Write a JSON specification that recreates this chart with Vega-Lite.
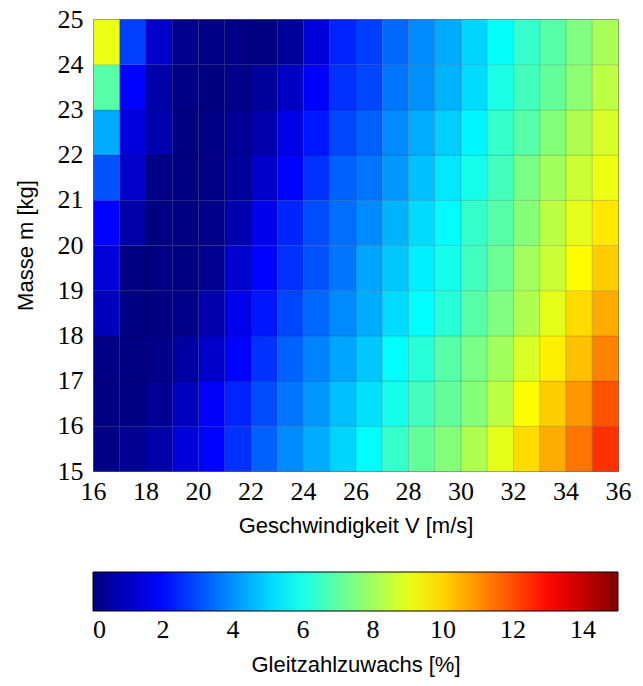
{
  "$schema": "https://vega.github.io/schema/vega-lite/v6.json",
  "width": 525,
  "height": 452,
  "autosize": {"type": "none"},
  "padding": {"left": 93, "top": 19, "right": 25, "bottom": 215},
  "background": "white",
  "config": {
    "view": {"stroke": "#888", "strokeWidth": 1},
    "axis": {"grid": false, "ticks": false, "domain": false, "labelColor": "black", "titleColor": "black"}
  },
  "datasets": {
    "cells": [
      {"m":15,"V":16,"g":0.1},{"m":15,"V":17,"g":0.3},{"m":15,"V":18,"g":0.6},{"m":15,"V":19,"g":1.3},{"m":15,"V":20,"g":1.9},{"m":15,"V":21,"g":2.6},{"m":15,"V":22,"g":3.3},{"m":15,"V":23,"g":3.9},{"m":15,"V":24,"g":4.4},{"m":15,"V":25,"g":5.0},{"m":15,"V":26,"g":5.6},{"m":15,"V":27,"g":6.4},{"m":15,"V":28,"g":7.1},{"m":15,"V":29,"g":7.6},{"m":15,"V":30,"g":8.2},{"m":15,"V":31,"g":9.0},{"m":15,"V":32,"g":9.9},{"m":15,"V":33,"g":10.6},{"m":15,"V":34,"g":11.4},{"m":15,"V":35,"g":12.4},
      {"m":16,"V":16,"g":0.05},{"m":16,"V":17,"g":0.05},{"m":16,"V":18,"g":0.3},{"m":16,"V":19,"g":0.9},{"m":16,"V":20,"g":1.85},{"m":16,"V":21,"g":2.4},{"m":16,"V":22,"g":3.0},{"m":16,"V":23,"g":3.6},{"m":16,"V":24,"g":4.1},{"m":16,"V":25,"g":4.7},{"m":16,"V":26,"g":5.2},{"m":16,"V":27,"g":5.9},{"m":16,"V":28,"g":6.6},{"m":16,"V":29,"g":7.1},{"m":16,"V":30,"g":7.6},{"m":16,"V":31,"g":8.4},{"m":16,"V":32,"g":9.4},{"m":16,"V":33,"g":10.1},{"m":16,"V":34,"g":10.9},{"m":16,"V":35,"g":11.9},
      {"m":17,"V":16,"g":0.1},{"m":17,"V":17,"g":0.05},{"m":17,"V":18,"g":0.15},{"m":17,"V":19,"g":0.5},{"m":17,"V":20,"g":1.1},{"m":17,"V":21,"g":1.9},{"m":17,"V":22,"g":2.6},{"m":17,"V":23,"g":3.3},{"m":17,"V":24,"g":3.8},{"m":17,"V":25,"g":4.3},{"m":17,"V":26,"g":4.8},{"m":17,"V":27,"g":5.6},{"m":17,"V":28,"g":6.2},{"m":17,"V":29,"g":6.9},{"m":17,"V":30,"g":7.4},{"m":17,"V":31,"g":8.0},{"m":17,"V":32,"g":8.8},{"m":17,"V":33,"g":9.6},{"m":17,"V":34,"g":10.3},{"m":17,"V":35,"g":11.2},
      {"m":18,"V":16,"g":0.9},{"m":18,"V":17,"g":0.05},{"m":18,"V":18,"g":0.05},{"m":18,"V":19,"g":0.15},{"m":18,"V":20,"g":0.7},{"m":18,"V":21,"g":1.6},{"m":18,"V":22,"g":2.2},{"m":18,"V":23,"g":2.9},{"m":18,"V":24,"g":3.4},{"m":18,"V":25,"g":3.9},{"m":18,"V":26,"g":4.4},{"m":18,"V":27,"g":5.1},{"m":18,"V":28,"g":5.6},{"m":18,"V":29,"g":6.2},{"m":18,"V":30,"g":6.9},{"m":18,"V":31,"g":7.5},{"m":18,"V":32,"g":8.2},{"m":18,"V":33,"g":9.0},{"m":18,"V":34,"g":9.9},{"m":18,"V":35,"g":10.6},
      {"m":19,"V":16,"g":1.3},{"m":19,"V":17,"g":0.05},{"m":19,"V":18,"g":0.05},{"m":19,"V":19,"g":0.05},{"m":19,"V":20,"g":0.3},{"m":19,"V":21,"g":1.2},{"m":19,"V":22,"g":1.9},{"m":19,"V":23,"g":2.6},{"m":19,"V":24,"g":3.1},{"m":19,"V":25,"g":3.6},{"m":19,"V":26,"g":4.3},{"m":19,"V":27,"g":4.8},{"m":19,"V":28,"g":5.4},{"m":19,"V":29,"g":5.9},{"m":19,"V":30,"g":6.6},{"m":19,"V":31,"g":7.2},{"m":19,"V":32,"g":8.0},{"m":19,"V":33,"g":8.6},{"m":19,"V":34,"g":9.4},{"m":19,"V":35,"g":10.1},
      {"m":20,"V":16,"g":1.9},{"m":20,"V":17,"g":0.6},{"m":20,"V":18,"g":0.05},{"m":20,"V":19,"g":0.05},{"m":20,"V":20,"g":0.15},{"m":20,"V":21,"g":0.7},{"m":20,"V":22,"g":1.6},{"m":20,"V":23,"g":2.4},{"m":20,"V":24,"g":3.0},{"m":20,"V":25,"g":3.5},{"m":20,"V":26,"g":3.9},{"m":20,"V":27,"g":4.5},{"m":20,"V":28,"g":5.1},{"m":20,"V":29,"g":5.6},{"m":20,"V":30,"g":6.4},{"m":20,"V":31,"g":6.9},{"m":20,"V":32,"g":7.6},{"m":20,"V":33,"g":8.4},{"m":20,"V":34,"g":9.0},{"m":20,"V":35,"g":9.7},
      {"m":21,"V":16,"g":3.1},{"m":21,"V":17,"g":1.1},{"m":21,"V":18,"g":0.1},{"m":21,"V":19,"g":0.05},{"m":21,"V":20,"g":0.1},{"m":21,"V":21,"g":0.4},{"m":21,"V":22,"g":1.1},{"m":21,"V":23,"g":1.9},{"m":21,"V":24,"g":2.6},{"m":21,"V":25,"g":3.3},{"m":21,"V":26,"g":3.6},{"m":21,"V":27,"g":4.1},{"m":21,"V":28,"g":4.7},{"m":21,"V":29,"g":5.3},{"m":21,"V":30,"g":5.9},{"m":21,"V":31,"g":6.6},{"m":21,"V":32,"g":7.4},{"m":21,"V":33,"g":8.0},{"m":21,"V":34,"g":8.6},{"m":21,"V":35,"g":9.1},
      {"m":22,"V":16,"g":4.4},{"m":22,"V":17,"g":1.4},{"m":22,"V":18,"g":0.7},{"m":22,"V":19,"g":0.05},{"m":22,"V":20,"g":0.1},{"m":22,"V":21,"g":0.3},{"m":22,"V":22,"g":0.7},{"m":22,"V":23,"g":1.5},{"m":22,"V":24,"g":2.2},{"m":22,"V":25,"g":2.9},{"m":22,"V":26,"g":3.3},{"m":22,"V":27,"g":3.9},{"m":22,"V":28,"g":4.4},{"m":22,"V":29,"g":4.9},{"m":22,"V":30,"g":5.5},{"m":22,"V":31,"g":6.4},{"m":22,"V":32,"g":6.9},{"m":22,"V":33,"g":7.6},{"m":22,"V":34,"g":8.2},{"m":22,"V":35,"g":8.8},
      {"m":23,"V":16,"g":6.9},{"m":23,"V":17,"g":1.9},{"m":23,"V":18,"g":0.6},{"m":23,"V":19,"g":0.1},{"m":23,"V":20,"g":0.05},{"m":23,"V":21,"g":0.15},{"m":23,"V":22,"g":0.4},{"m":23,"V":23,"g":1.0},{"m":23,"V":24,"g":1.85},{"m":23,"V":25,"g":2.6},{"m":23,"V":26,"g":2.9},{"m":23,"V":27,"g":3.6},{"m":23,"V":28,"g":4.0},{"m":23,"V":29,"g":4.5},{"m":23,"V":30,"g":5.1},{"m":23,"V":31,"g":6.0},{"m":23,"V":32,"g":6.6},{"m":23,"V":33,"g":7.1},{"m":23,"V":34,"g":7.7},{"m":23,"V":35,"g":8.4},
      {"m":24,"V":16,"g":9.1},{"m":24,"V":17,"g":2.8},{"m":24,"V":18,"g":1.1},{"m":24,"V":19,"g":0.2},{"m":24,"V":20,"g":0.1},{"m":24,"V":21,"g":0.1},{"m":24,"V":22,"g":0.05},{"m":24,"V":23,"g":0.4},{"m":24,"V":24,"g":1.3},{"m":24,"V":25,"g":2.4},{"m":24,"V":26,"g":2.8},{"m":24,"V":27,"g":3.4},{"m":24,"V":28,"g":3.9},{"m":24,"V":29,"g":4.4},{"m":24,"V":30,"g":5.0},{"m":24,"V":31,"g":5.7},{"m":24,"V":32,"g":6.4},{"m":24,"V":33,"g":6.9},{"m":24,"V":34,"g":7.5},{"m":24,"V":35,"g":8.1}
    ]
  },
  "data": {"name": "cells"},
  "mark": {"type": "rect", "stroke": "#000000", "strokeOpacity": 0.12, "strokeWidth": 1},
  "encoding": {
    "x": {
      "field": "V", "type": "quantitative", "bin": {"binned": true, "step": 1},
      "scale": {"domain": [16, 36], "nice": false, "zero": false},
      "axis": {
        "values": [16, 18, 20, 22, 24, 26, 28, 30, 32, 34, 36],
        "labelFont": "Liberation Serif", "labelFontSize": 26, "labelPadding": 7,
        "labelFlush": false, "labelOverlap": false,
        "title": "Geschwindigkeit V [m/s]", "titleFont": "Liberation Sans", "titleFontSize": 22,
        "titleFontWeight": "normal", "titlePadding": 11
      }
    },
    "y": {
      "field": "m", "type": "quantitative", "bin": {"binned": true, "step": 1},
      "scale": {"domain": [15, 25], "nice": false, "zero": false},
      "axis": {
        "values": [15, 16, 17, 18, 19, 20, 21, 22, 23, 24, 25],
        "labelFont": "Liberation Serif", "labelFontSize": 26, "labelPadding": 10,
        "labelFlush": false, "labelOverlap": false,
        "title": "Masse m [kg]", "titleFont": "Liberation Sans", "titleFontSize": 22,
        "titleFontWeight": "normal", "titlePadding": 20
      }
    },
    "color": {
      "field": "g", "type": "quantitative",
      "scale": {
        "type": "linear",
        "interpolate": "rgb",
        "domain": [0, 1.875, 5.625, 9.375, 13.125, 15],
        "range": ["#000080", "#0000ff", "#00ffff", "#ffff00", "#ff0000", "#800000"]
      },
      "legend": {
        "orient": "none", "legendX": 0, "legendY": 553, "direction": "horizontal",
        "padding": 0, "offset": 0,
        "gradientLength": 525, "gradientThickness": 39,
        "gradientStrokeColor": "black", "gradientStrokeWidth": 1,
        "values": [0, 2, 4, 6, 8, 10, 12, 14],
        "labelFont": "Liberation Serif", "labelFontSize": 26, "labelOffset": 6, "labelColor": "black",
        "labelOverlap": false,
        "title": "Gleitzahlzuwachs [%]", "titleOrient": "bottom", "titleAnchor": "middle", "titleAlign": "center",
        "titleFont": "Liberation Sans", "titleFontSize": 22, "titleFontWeight": "normal", "titleColor": "black",
        "titlePadding": 12, "titleLimit": 600
      }
    }
  }
}
